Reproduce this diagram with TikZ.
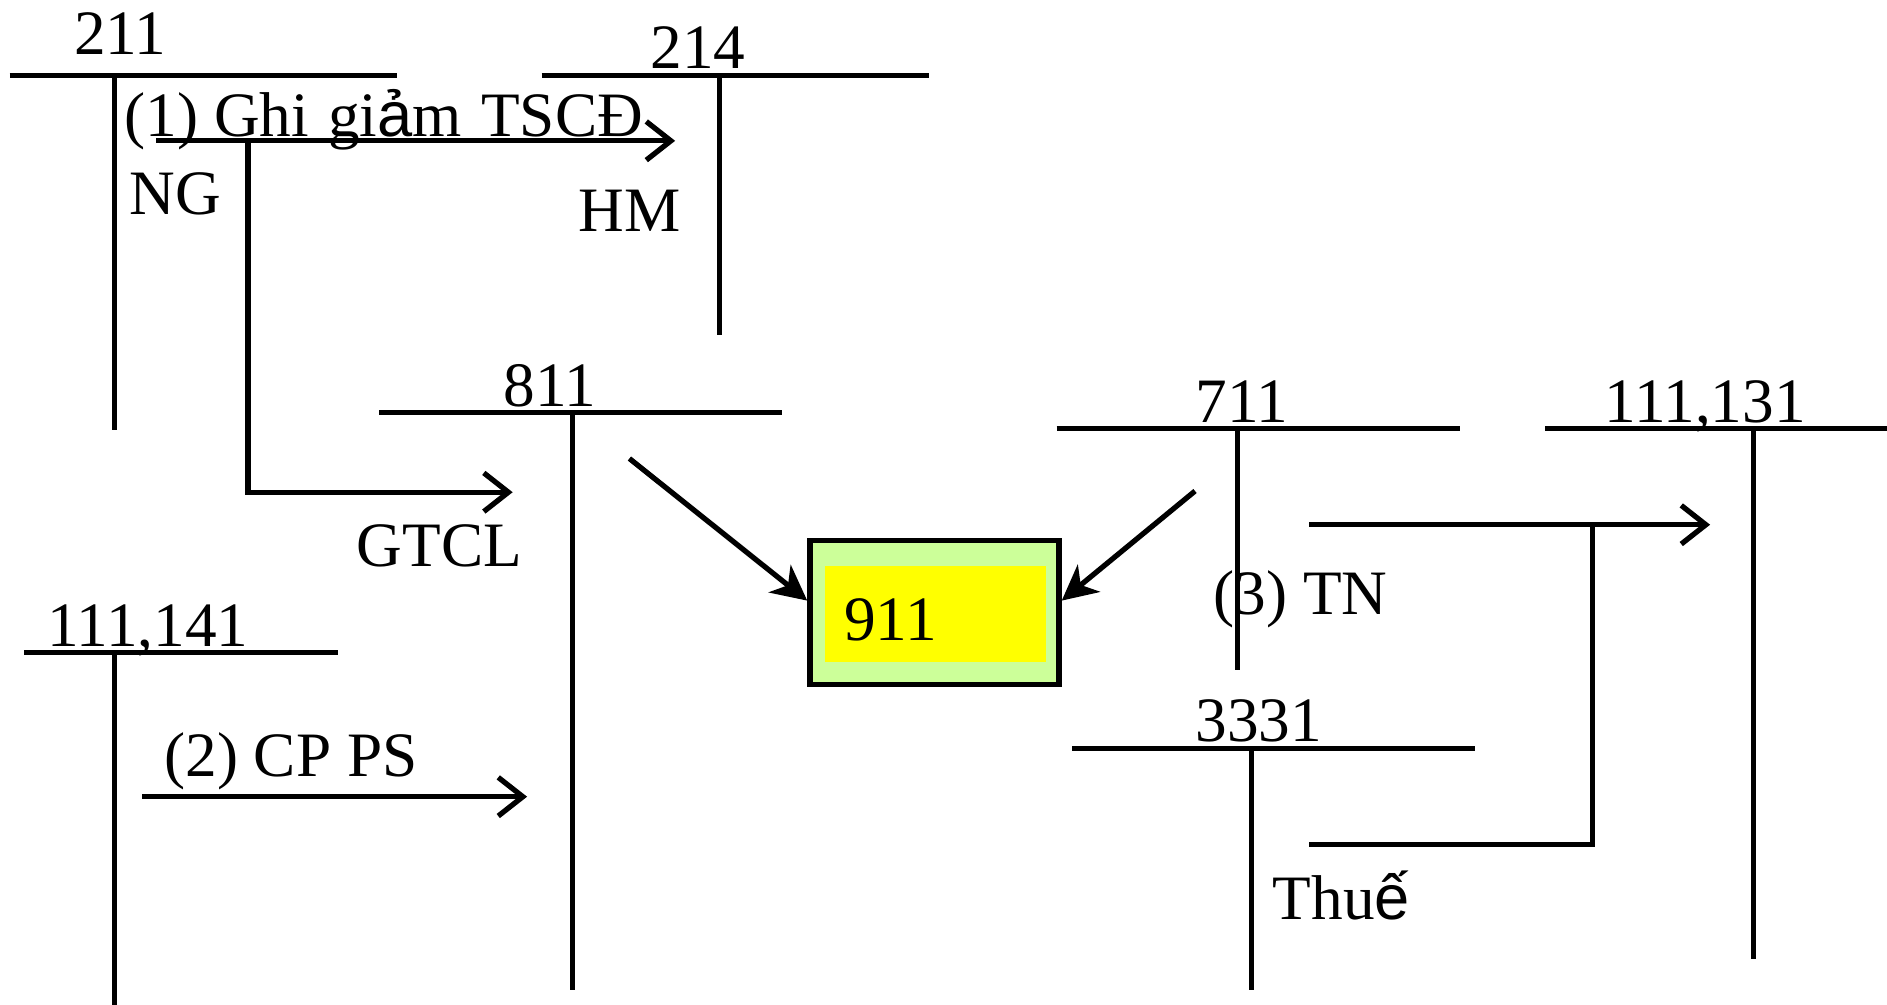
\documentclass[tikz,border=0pt]{standalone}
\usepackage{fontspec}
\setmainfont{Liberation Serif}
\newfontfamily\accfont{Liberation Sans}
\usepackage{xcolor}
\definecolor{boxgreen}{RGB}{204,255,153}
\definecolor{boxyellow}{RGB}{255,255,0}
\usetikzlibrary{arrows.meta,positioning,calc}
\tikzset{
  acc/.style={line width=1.5pt},
  flow/.style={line width=1.5pt,-{Straight Barb[length=7pt,width=11pt,line width=1.5pt]}},
  flowin/.style={line width=1.5pt,-{Stealth[length=10pt,width=10pt,inset=3pt]}},
  lbl/.style={inner sep=0pt,anchor=base,font=\fontsize{18}{21}\selectfont},
  lblw/.style={lbl,anchor=base west}
}
\begin{document}
\begin{tikzpicture}[x=0.012034cm,y=-0.012034cm]
  \useasboundingbox (0,0) rectangle (1568,835);
  %% Account 211
  \draw[acc] (8,63) -- (330,63);
  \draw[acc] (95,63) -- (95,357);
  \node[lbl] (n211) at (100,45) {211};
  \node[lblw] (ng) at (107,178) {NG};
  %% Account 214
  \draw[acc] (450,63) -- (772,63);
  \draw[acc] (598,63) -- (598,278);
  \node[lbl] (n214) at (580,57) {214};
  \node[lblw] (hm) at (480,192) {HM};
  %% (1) Ghi giam TSCD
  \node[lblw] (t1) at (103,113) {(1) Ghi\hspace{1pt} gi{\accfont ả}m\hspace{1pt} TSCĐ};
  \coordinate (a1s) at (130,117);
  \coordinate (a1e) at (561,117);
  \coordinate (a1k) at (206,117);
  \coordinate (a1c) at (206,409);
  \coordinate (a1t) at (426,409);
  \draw[flow] (a1s) -- (a1e);
  \draw[flow] (a1k) -- (a1c) -- (a1t);
  \node[lblw] (gtcl) at (296,471) {GTCL};
  %% Account 811
  \draw[acc] (315,343) -- (650,343);
  \draw[acc] (476,343) -- (476,823);
  \node[lbl] (n811) at (457,338) {811};
  %% Account 111,141
  \draw[acc] (20,542) -- (281,542);
  \draw[acc] (95,542) -- (95,835);
  \node[lbl] (n111a) at (123,537) {111,141};
  \node[lblw] (t2) at (136,645) {(2) CP PS};
  \coordinate (a2s) at (118,662);
  \coordinate (a2e) at (438,662);
  \draw[flow] (a2s) -- (a2e);
  %% Account 911
  \node[draw,line width=1.6pt,fill=boxgreen,minimum width=2.49cm,
        minimum height=1.44cm,inner sep=0pt] (b911) at (776.5,509) {};
  \node[fill=boxyellow,minimum width=2.21cm,minimum height=0.96cm,
        inner sep=0pt] (b911in) at (777,510) {};
  \node[lblw] (t911) at (701,532) {911};
  \coordinate (in1) at ($(b911.north west)!0.42!(b911.south west)$);
  \coordinate (in2) at ($(b911.north east)!0.42!(b911.south east)$);
  \coordinate (o811) at (523,381);
  \coordinate (o711) at (993,408);
  \draw[flowin] (o811) -- (in1);
  \draw[flowin] (o711) -- (in2);
  %% Account 711
  \draw[acc] (878,356) -- (1213,356);
  \draw[acc] (1028,356) -- (1028,557);
  \node[lbl] (n711) at (1032,351) {711};
  \node[lblw] (t3) at (1008,511) {(3) TN};
  %% Account 111,131
  \draw[acc] (1284,356) -- (1568,356);
  \draw[acc] (1457,356) -- (1457,797);
  \node[lbl] (n111b) at (1417,351) {111,131};
  \coordinate (a3s) at (1088,436);
  \coordinate (a3e) at (1421,436);
  \coordinate (a3k) at (1323,436);
  \coordinate (a3c) at (1323,702);
  \coordinate (a3t) at (1088,702);
  \draw[flow] (a3s) -- (a3e);
  \draw[acc] (a3k) -- (a3c) -- (a3t);
  %% Account 3331
  \draw[acc] (891,622) -- (1226,622);
  \draw[acc] (1040,622) -- (1040,823);
  \node[lbl] (n3331) at (1046,616) {3331};
  \node[lblw] (thue) at (1057,764) {Thu{\accfont ế}};
\end{tikzpicture}
\end{document}
